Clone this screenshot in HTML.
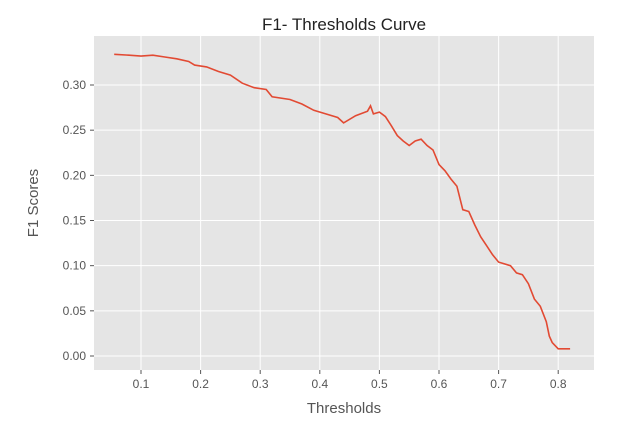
<!DOCTYPE html>
<html><head><meta charset="utf-8"><style>
body{margin:0;background:#fff;}
svg text{font-family:"Liberation Sans",sans-serif;}
</style></head><body>
<svg id="chart" width="620" height="430" xmlns="http://www.w3.org/2000/svg">
<rect x="94" y="36" width="500" height="334" fill="#e5e5e5"/>
<g id="grid"></g><g id="ticks"></g>
<path id="line" fill="none" stroke="#e24a33" stroke-width="1.6"/>
<text x="344" y="30" font-size="17" text-anchor="middle" fill="#222">F1- Thresholds Curve</text>
<text x="344" y="413" font-size="15" text-anchor="middle" fill="#555">Thresholds</text>
<text x="38" y="203" font-size="15" text-anchor="middle" fill="#555" transform="rotate(-90 38 203)">F1 Scores</text>
</svg>
<script>
const thresholds=[0.055,0.08,0.1,0.12,0.14,0.16,0.18,0.19,0.21,0.23,0.25,0.27,0.29,0.31,0.32,0.35,0.37,0.39,0.41,0.43,0.44,0.46,0.48,0.485,0.49,0.5,0.51,0.52,0.53,0.54,0.55,0.56,0.57,0.58,0.59,0.6,0.61,0.62,0.63,0.64,0.65,0.66,0.67,0.68,0.69,0.7,0.72,0.73,0.74,0.75,0.76,0.77,0.78,0.785,0.79,0.8,0.82];
const f1Scores=[0.334,0.333,0.332,0.333,0.331,0.329,0.326,0.322,0.320,0.315,0.311,0.302,0.297,0.295,0.287,0.284,0.279,0.272,0.268,0.264,0.258,0.266,0.271,0.277,0.268,0.270,0.265,0.255,0.244,0.238,0.233,0.238,0.240,0.233,0.228,0.212,0.205,0.196,0.188,0.162,0.160,0.145,0.132,0.122,0.112,0.104,0.100,0.092,0.090,0.080,0.063,0.055,0.038,0.022,0.015,0.008,0.008];
const xTicks=[0.1,0.2,0.3,0.4,0.5,0.6,0.7,0.8];
const yTicks=[0,0.05,0.10,0.15,0.20,0.25,0.30];
const X=v=>141+(v-0.1)*596;
const Y=v=>356-v*903.3;
const NS="http://www.w3.org/2000/svg";
const grid=document.getElementById('grid'),ticks=document.getElementById('ticks');
function mk(tag,attrs,parent){const e=document.createElementNS(NS,tag);for(const k in attrs)e.setAttribute(k,attrs[k]);parent.appendChild(e);return e;}
xTicks.forEach(t=>{
 const l=mk('line',{x1:X(t),x2:X(t),y1:36,y2:370,stroke:'#fff','stroke-width':1},grid);
 
 
 mk('line',{x1:X(t),x2:X(t),y1:370,y2:374,stroke:'#555'},ticks);
 const tx=mk('text',{x:X(t),y:388,'font-size':12,'text-anchor':'middle',fill:'#555'},ticks);
 tx.textContent=t.toFixed(1);
 
 
});
yTicks.forEach(t=>{
 const l=mk('line',{x1:94,x2:594,y1:Y(t),y2:Y(t),stroke:'#fff','stroke-width':1},grid);
 
 
 mk('line',{x1:90,x2:94,y1:Y(t),y2:Y(t),stroke:'#555'},ticks);
 const tx=mk('text',{x:86,y:Y(t)+4,'font-size':12,'text-anchor':'end',fill:'#555'},ticks);
 tx.textContent=t.toFixed(2);
 
 
});
document.getElementById('line').setAttribute('d',thresholds.map((t,i)=>(i?'L':'M')+X(t).toFixed(1)+','+Y(f1Scores[i]).toFixed(1)).join(''));
</script>
</body></html>
